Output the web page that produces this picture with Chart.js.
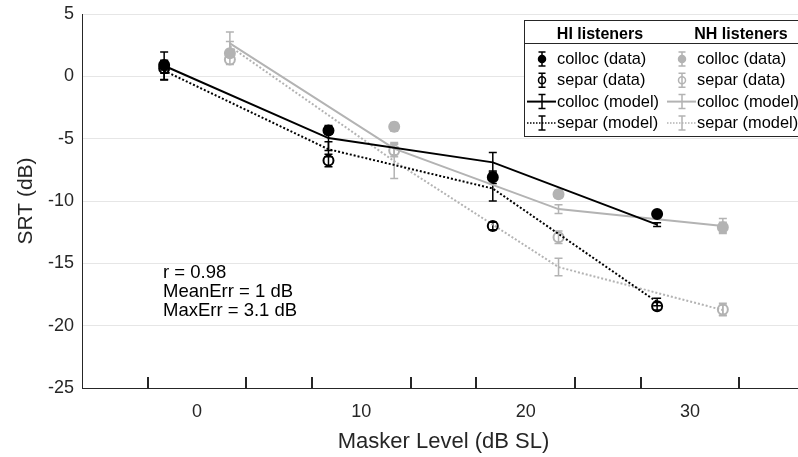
<!DOCTYPE html>
<html>
<head>
<meta charset="utf-8">
<script src="https://cdn.jsdelivr.net/npm/chart.js@4.4.0/dist/chart.umd.min.js"></script>
<style>
  html, body { margin: 0; padding: 0; background: #fff; overflow: hidden; }
</style>
</head>
<body>
<canvas id="chart" width="812" height="457"></canvas>
<script>
// x positions of the two listener groups (offset around 0/10/20/30)
const xHI = [-2, 8, 18, 28];
const xNH = [2, 12, 22, 32];
const xLabels = [0, 10, 20, 30];
const xTickMarks = [-3, 3, 7, 13, 17, 23, 27, 33];

// HI listeners
const hiCollocData = [0.9, -4.35, -8.1, -11.05];
const hiCollocDataErr = [0.4, 0.3, 0.5, 0.2];
const hiSeparData = [0.65, -6.75, -12.0, -18.45];
const hiSeparDataErr = [0.4, 0.5, 0.3, 0.3];
const hiCollocModel = [0.85, -4.95, -6.9, -11.9];
const hiCollocModelErr = [1.1, 1.0, 0.8, 0.15];
const hiSeparModel = [0.45, -5.85, -9.0, -18.1];
const hiSeparModelErr = [0.75, 0.6, 1.0, 0.3];

// NH listeners
const nhCollocData = [1.85, -4.05, -9.45, -12.1];
const nhCollocDataErr = [0.3, 0.35, 0.3, 0.4];
const nhSeparData = [1.35, -5.95, -12.9, -18.7];
const nhSeparDataErr = [0.4, 0.5, 0.5, 0.5];
const nhCollocModel = [2.65, -5.8, -10.65, -12.0];
const nhCollocModelErr = [0.9, 0.5, 0.35, 0.6];
const nhSeparModel = [2.4, -6.8, -15.3, -18.75];
const nhSeparModelErr = [0.4, 1.4, 0.7, 0.4];

const statsText = ['r = 0.98', 'MeanErr = 1 dB', 'MaxErr = 3.1 dB'];

const BLACK = '#000000';
const GREY = '#b3b3b3';
const AXIS = '#262626';
const FONT = '"Liberation Sans", Arial, Helvetica, sans-serif';

function toPts(xs, ys) {
  return xs.map((x, i) => ({ x: x, y: ys[i] }));
}

function dataSet(label, group, xs, ys, errs, color, filled) {
  return {
    label: label, group: group, kind: 'data', filled: filled, errs: errs,
    data: toPts(xs, ys),
    showLine: false,
    pointRadius: 5,
    pointStyle: 'circle',
    borderColor: color,
    backgroundColor: filled ? color : 'rgba(0,0,0,0)',
    borderWidth: 2
  };
}

function modelSet(label, group, xs, ys, errs, color, dotted) {
  return {
    label: label, group: group, kind: 'model', dotted: dotted, errs: errs,
    data: toPts(xs, ys),
    showLine: true,
    pointRadius: 0,
    borderColor: color,
    backgroundColor: color,
    borderWidth: 2,
    borderDash: dotted ? [2, 2] : [],
    tension: 0,
    fill: false
  };
}

const datasets = [
  dataSet('colloc (data)', 'HI', xHI, hiCollocData, hiCollocDataErr, BLACK, true),
  dataSet('separ (data)', 'HI', xHI, hiSeparData, hiSeparDataErr, BLACK, false),
  modelSet('colloc (model)', 'HI', xHI, hiCollocModel, hiCollocModelErr, BLACK, false),
  modelSet('separ (model)', 'HI', xHI, hiSeparModel, hiSeparModelErr, BLACK, true),
  dataSet('colloc (data)', 'NH', xNH, nhCollocData, nhCollocDataErr, GREY, true),
  dataSet('separ (data)', 'NH', xNH, nhSeparData, nhSeparDataErr, GREY, false),
  modelSet('colloc (model)', 'NH', xNH, nhCollocModel, nhCollocModelErr, GREY, false),
  modelSet('separ (model)', 'NH', xNH, nhSeparModel, nhSeparModelErr, GREY, true)
];

function drawErrBar(ctx, x, yTop, yBot, color, cap) {
  ctx.strokeStyle = color;
  ctx.lineWidth = 1.5;
  ctx.setLineDash([]);
  ctx.beginPath();
  ctx.moveTo(x, yTop); ctx.lineTo(x, yBot);
  ctx.moveTo(x - cap, yTop); ctx.lineTo(x + cap, yTop);
  ctx.moveTo(x - cap, yBot); ctx.lineTo(x + cap, yBot);
  ctx.stroke();
}

// error bars for every series, through the chart scales
const errorBars = {
  id: 'errorBars',
  beforeDatasetsDraw(chart) {
    const ctx = chart.ctx;
    const xs = chart.scales.x, ys = chart.scales.y;
    ctx.save();
    chart.data.datasets.forEach(ds => {
      ds.data.forEach((p, i) => {
        const e = ds.errs[i];
        drawErrBar(ctx, xs.getPixelForValue(p.x), ys.getPixelForValue(p.y + e),
          ys.getPixelForValue(p.y - e), ds.borderColor, 4);
      });
    });
    ctx.restore();
  }
};

// inward tick marks on the x axis at the group edges
const xTicksIn = {
  id: 'xTicksIn',
  afterDraw(chart) {
    const ctx = chart.ctx;
    const xs = chart.scales.x;
    const yb = chart.chartArea.bottom;
    ctx.save();
    ctx.strokeStyle = AXIS;
    ctx.lineWidth = 2;
    ctx.beginPath();
    xTickMarks.forEach(v => {
      const px = Math.round(xs.getPixelForValue(v));
      ctx.moveTo(px, yb);
      ctx.lineTo(px, yb - 11);
    });
    ctx.stroke();
    ctx.restore();
  }
};

const statsNote = {
  id: 'statsNote',
  afterDraw(chart) {
    const ctx = chart.ctx;
    ctx.save();
    ctx.fillStyle = '#000';
    ctx.font = '18.5px ' + FONT;
    ctx.textAlign = 'left';
    ctx.textBaseline = 'alphabetic';
    statsText.forEach((t, i) => ctx.fillText(t, 163, 278 + i * 18.8));
    ctx.restore();
  }
};

// two-column legend box (HI / NH)
const groupLegend = {
  id: 'groupLegend',
  afterDraw(chart) {
    const ctx = chart.ctx;
    const L = 524, T = 20, R = 808, B = 136;
    ctx.save();
    ctx.fillStyle = '#fff';
    ctx.fillRect(L, T, R - L, B - T);
    ctx.strokeStyle = AXIS;
    ctx.lineWidth = 1;
    ctx.setLineDash([]);
    ctx.strokeRect(L + 0.5, T + 0.5, R - L, B - T);
    ctx.beginPath();
    ctx.moveTo(L, 43.5); ctx.lineTo(R, 43.5);
    ctx.stroke();

    const cols = [
      { group: 'HI', title: 'HI listeners', head: 600, icon: 542, text: 557 },
      { group: 'NH', title: 'NH listeners', head: 741, icon: 682, text: 697 }
    ];
    const rowBase = [64, 85.3, 106.6, 128];
    cols.forEach(col => {
      ctx.fillStyle = '#000';
      ctx.font = 'bold 16px ' + FONT;
      ctx.textAlign = 'center';
      ctx.fillText(col.title, col.head, 39);
      const items = chart.data.datasets.filter(d => d.group === col.group);
      items.forEach((ds, r) => {
        const yb = rowBase[r];
        const yc = yb - 5;
        const c = ds.borderColor;
        if (ds.kind === 'model') {
          ctx.strokeStyle = c;
          ctx.lineWidth = ds.dotted ? 1.5 : 2;
          ctx.setLineDash(ds.dotted ? [1.5, 1.5] : []);
          ctx.beginPath();
          ctx.moveTo(col.icon - 15, yc); ctx.lineTo(col.icon + 14, yc);
          ctx.stroke();
          drawErrBar(ctx, col.icon, yc - 7, yc + 7, c, 3.5);
        } else {
          drawErrBar(ctx, col.icon, yc - 7, yc + 7, c, 3.5);
          ctx.beginPath();
          ctx.arc(col.icon, yc, 3.5, 0, Math.PI * 2);
          ctx.lineWidth = 1.5;
          ctx.strokeStyle = c;
          if (ds.filled) { ctx.fillStyle = c; ctx.fill(); }
          ctx.stroke();
        }
        ctx.setLineDash([]);
        ctx.fillStyle = '#000';
        ctx.font = '16.4px ' + FONT;
        ctx.textAlign = 'left';
        ctx.fillText(ds.label, col.text, yb);
      });
    });
    ctx.restore();
  }
};

new Chart(document.getElementById('chart').getContext('2d'), {
  type: 'scatter',
  data: { datasets: datasets },
  options: {
    responsive: false,
    animation: false,
    devicePixelRatio: 1,
    layout: { padding: { top: 14, right: 2, left: 0, bottom: 0 } },
    plugins: {
      legend: { display: false },
      tooltip: { enabled: false }
    },
    elements: { line: { tension: 0 } },
    scales: {
      x: {
        type: 'linear',
        min: -7,
        max: 37,
        afterBuildTicks: s => { s.ticks = xLabels.map(v => ({ value: v })); },
        afterFit: s => { s.height = 69; },
        grid: { display: false, drawTicks: false },
        border: { color: AXIS, width: 1 },
        ticks: { color: AXIS, font: { family: FONT, size: 18 }, padding: 13, callback: v => String(v) },
        title: {
          display: true, text: 'Masker Level (dB SL)', color: AXIS,
          font: { family: FONT, size: 22 }, padding: { top: 4, bottom: 2 }
        }
      },
      y: {
        min: -25,
        max: 5,
        afterFit: s => { s.width = 82; },
        grid: { color: '#e6e6e6', drawTicks: false },
        border: { color: AXIS, width: 1 },
        ticks: { stepSize: 5, color: AXIS, font: { family: FONT, size: 18, lineHeight: 0.6 }, padding: 8, callback: v => String(v) },
        title: {
          display: true, text: 'SRT (dB)', color: AXIS,
          font: { family: FONT, size: 21 }, padding: { top: 14, bottom: 0 }
        }
      }
    }
  },
  plugins: [errorBars, xTicksIn, statsNote, groupLegend]
});
</script>
</body>
</html>
